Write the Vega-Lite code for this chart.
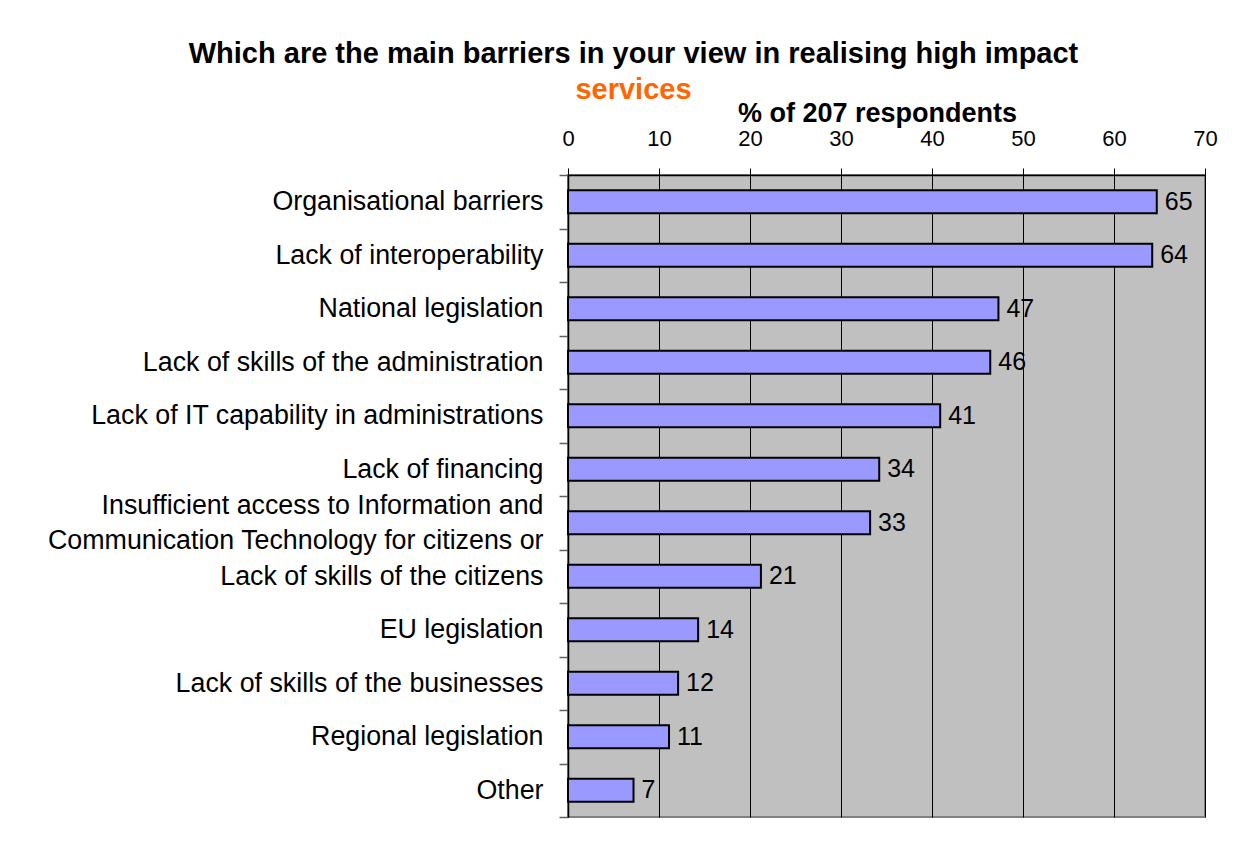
{
  "$schema": "https://vega.github.io/schema/vega-lite/v6.json",
  "autosize": "none",
  "width": 637,
  "height": 642,
  "padding": {"left": 568, "top": 175, "right": 30, "bottom": 24},
  "background": "white",
  "config": {
    "font": "Liberation Sans",
    "view": {"fill": "#C0C0C0", "stroke": "#808080", "strokeWidth": 2}
  },
  "title": {
    "text": "Which are the main barriers in your view in realising high impact",
    "subtitle": "services",
    "anchor": "middle",
    "dx": -253,
    "offset": -6,
    "font": "Liberation Sans",
    "fontSize": 29,
    "fontWeight": "bold",
    "color": "black",
    "subtitleFont": "Liberation Sans",
    "subtitleFontSize": 29,
    "subtitleFontWeight": "bold",
    "subtitleColor": "#FF6600",
    "subtitlePadding": 7
  },
  "data": {
    "values": [
      {"barrier": "Organisational barriers", "pct": 64.7, "label": 65},
      {"barrier": "Lack of interoperability", "pct": 64.2, "label": 64},
      {"barrier": "National legislation", "pct": 47.3, "label": 47},
      {"barrier": "Lack of skills of the administration", "pct": 46.4, "label": 46},
      {"barrier": "Lack of IT capability in administrations", "pct": 40.9, "label": 41},
      {"barrier": "Lack of financing", "pct": 34.2, "label": 34},
      {"barrier": "Insufficient access to Information and Communication Technology for citizens or", "pct": 33.2, "label": 33},
      {"barrier": "Lack of skills of the citizens", "pct": 21.2, "label": 21},
      {"barrier": "EU legislation", "pct": 14.3, "label": 14},
      {"barrier": "Lack of skills of the businesses", "pct": 12.1, "label": 12},
      {"barrier": "Regional legislation", "pct": 11.1, "label": 11},
      {"barrier": "Other", "pct": 7.2, "label": 7}
    ]
  },
  "encoding": {
    "y": {
      "field": "barrier",
      "type": "nominal",
      "sort": null,
      "scale": {"paddingInner": 0, "paddingOuter": 0},
      "axis": {
        "title": null,
        "labelFontSize": 26.8,
        "labelColor": "black",
        "labelLimit": 600,
        "labelPadding": 16,
        "labelLineHeight": 35,
        "labelOffset": {
          "condition": {"test": "indexof(datum.label, 'Insufficient') == 0", "value": -17},
          "value": 0
        },
        "labelExpr": "indexof(datum.label, 'Insufficient') == 0 ? ['Insufficient access to Information and\u2003\u2003', 'Communication Technology for citizens or'] : datum.label",
        "tickBand": "extent",
        "tickSize": 9,
        "tickColor": "#606060",
        "tickWidth": 1.5,
        "domainColor": "black",
        "domainWidth": 1.5,
        "grid": false
      }
    },
    "x": {
      "field": "pct",
      "type": "quantitative",
      "scale": {"domain": [0, 70], "nice": false},
      "axis": {
        "orient": "top",
        "values": [0, 10, 20, 30, 40, 50, 60, 70],
        "title": "% of 207 respondents",
        "titleFontSize": 27,
        "titleFontWeight": "bold",
        "titleColor": "black",
        "titleX": 309,
        "titleY": -54,
        "titleAlign": "center",
        "titleBaseline": "alphabetic",
        "labelFontSize": 22,
        "labelColor": "black",
        "labelBaseline": "alphabetic",
        "labelPadding": 23,
        "labelFlush": false,
        "tickSize": 7,
        "tickColor": "black",
        "domainColor": "black",
        "domainWidth": 1.5,
        "grid": true,
        "gridColor": "black",
        "gridOpacity": 1,
        "gridWidth": 1
      }
    }
  },
  "layer": [
    {
      "mark": {"type": "bar", "fill": "#9999FF", "stroke": "black", "strokeWidth": 2, "height": {"band": 0.43}}
    },
    {
      "mark": {"type": "text", "align": "left", "baseline": "middle", "dx": 8, "fontSize": 25, "color": "black"},
      "encoding": {"text": {"field": "label", "type": "quantitative"}}
    }
  ]
}
